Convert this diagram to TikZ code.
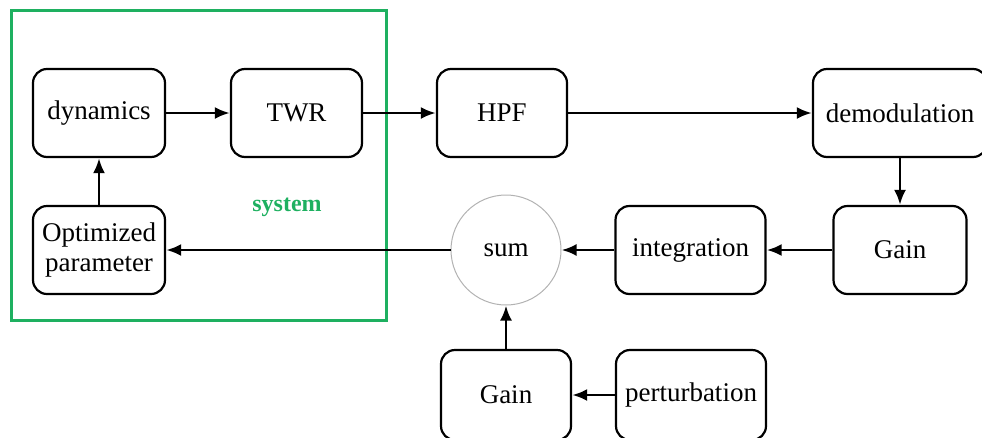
\documentclass[tikz,border=0pt]{standalone}
\usepackage{fontspec}
\setmainfont{Liberation Serif}
\usetikzlibrary{arrows.meta}
\definecolor{sysgreen}{RGB}{30,176,96}
\begin{document}
\begin{tikzpicture}[x=1pt,y=-1pt,
  blk/.style={draw, line width=2.2pt, rounded corners=14pt, font=\fontsize{27}{33}\selectfont, align=center, inner sep=0pt},
  conn/.style={line width=2.8pt, -{Latex[length=15pt,width=12pt]}}]
\useasboundingbox (0,0) rectangle (982,437);
\node[draw=sysgreen, line width=3pt, minimum width=375pt, minimum height=310pt, inner sep=0pt] (sys) at (198.5,165) {};
\node[text=sysgreen, font=\bfseries\fontsize{24}{28}\selectfont] (systxt) at (287,207) {system};
\node[blk, minimum width=132pt, minimum height=88pt] (dyn) at (99,113) {dynamics};
\node[blk, minimum width=131pt, minimum height=88pt] (twr) at (296.5,113) {TWR};
\node[blk, minimum width=130pt, minimum height=88pt] (hpf) at (502,113) {HPF};
\node[blk, minimum width=174pt, minimum height=88pt] (dem) at (900,113) {demodulation};
\node[blk, minimum width=132pt, minimum height=88pt] (opt) at (99,250) {Optimized\\[-3pt]parameter};
\node[draw=black!30, line width=1pt, circle, minimum size=110pt, inner sep=0pt, font=\fontsize{27}{31}\selectfont] (sum) at (506,250) {sum};
\node[blk, minimum width=150pt, minimum height=88pt] (intg) at (690.5,250) {integration};
\node[blk, minimum width=133pt, minimum height=88pt] (gainr) at (900,250) {Gain};
\node[blk, minimum width=130pt, minimum height=90pt] (gainb) at (506,395) {Gain};
\node[blk, minimum width=150pt, minimum height=90pt] (pert) at (691,395) {perturbation};
\draw[conn] (dyn) -- (twr);
\draw[conn] (twr) -- (hpf);
\draw[conn] (hpf) -- (dem);
\draw[conn] (dem) -- (gainr);
\draw[conn] (gainr) -- (intg);
\draw[conn] (intg) -- (sum);
\draw[conn] (sum) -- (opt);
\draw[conn] (opt) -- (dyn);
\draw[conn] (gainb) -- (sum);
\draw[conn] (pert) -- (gainb);
\end{tikzpicture}
\end{document}
